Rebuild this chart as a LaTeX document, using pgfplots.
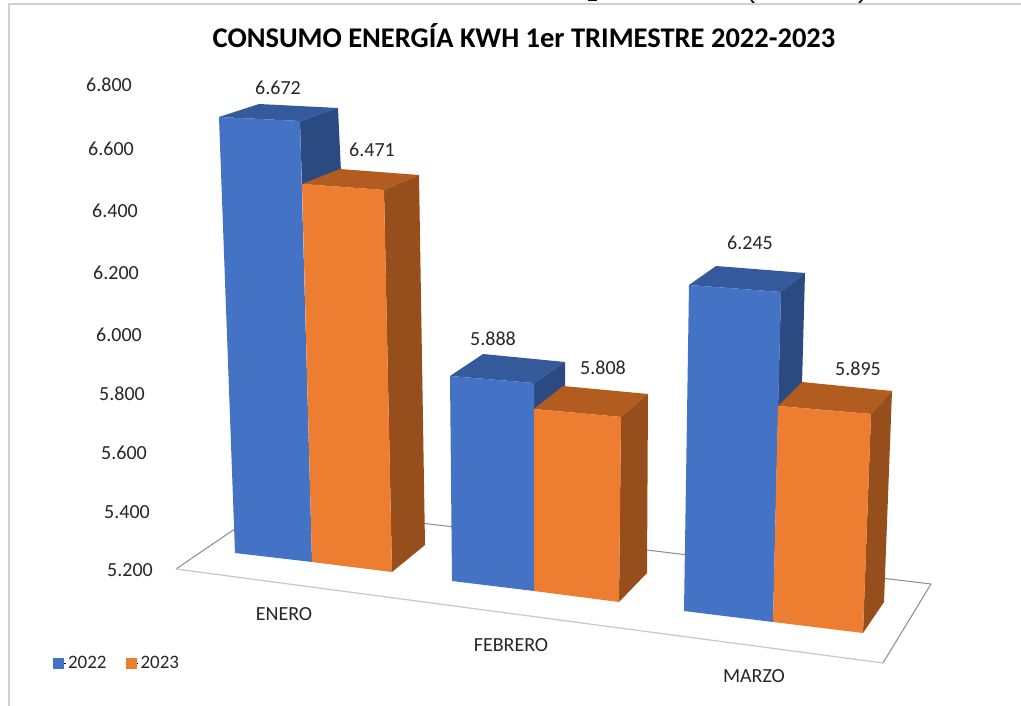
\documentclass[border=0pt]{standalone}
\usepackage{fontspec}
\setmainfont{Carlito}
\usepackage{pgfplots}
\pgfplotsset{compat=1.18}
\usepackage{pgfplotstable}
\definecolor{bF}{HTML}{4472C4}
\definecolor{bT}{HTML}{345A9C}
\definecolor{bS}{HTML}{2B4A82}
\definecolor{oF}{HTML}{ED7D31}
\definecolor{oT}{HTML}{B35C20}
\definecolor{oS}{HTML}{964F1C}
\definecolor{txt}{HTML}{262626}
\pgfplotstableread{
x y lab
109 85 6.800
111 149 6.600
115 211 6.400
116 273 6.200
119 335 6.000
122 394 5.800
124 453 5.600
127 512 5.400
130 570 5.200
}\ticklabs
\pgfplotstableread{
x y lab
278 88 6.672
372 150 6.471
493 339 5.888
603 368 5.808
750 243 6.245
858 369 5.895
}\vallabs
\pgfplotstableread{
x y lab
284 614 ENERO
511 645 FEBRERO
754 676 MARZO
}\catlabs
\newcommand{\poly}[2]{\addplot[fill=#1,draw=none,forget plot] coordinates {#2} -- cycle;}
\begin{document}
\begin{tikzpicture}
\begin{axis}[
  width=1021pt,height=706pt,scale only axis,
  xmin=0,xmax=1021,ymin=0,ymax=706,y dir=reverse,
  axis lines=none,clip=true,
  legend style={at={(axis cs:50,663)},anchor=west,draw=none,fill=none,legend columns=2,
    font=\fontsize{19}{19}\selectfont\color{txt},
    /tikz/every even column/.style={column sep=17pt}},
  legend image code/.code={\path (0pt,0pt) -- (12.5pt,0pt);\fill[draw=none,#1] (0pt,-5.5pt) rectangle (11pt,5.5pt);},
]
\addplot[fill=white,draw=none,forget plot] coordinates {(0,0)(1021,0)(1021,706)(0,706)} -- cycle;
% cropped bits of the text above the chart
\addplot[draw=black,line width=2pt,forget plot] coordinates {(588,0.5)(597,0.5)};
\addplot[draw=black,line width=1.5pt,forget plot] coordinates {(751,0)(754,3)};
\addplot[draw=black,line width=1.5pt,forget plot] coordinates {(862,0)(859,3)};
% chart frame
\addplot[draw=black!18,line width=1.3pt,forget plot] coordinates {(9,706)(9,4)(1021,4)};
% floor
\addplot[draw=black!45,line width=1pt,forget plot] coordinates {(270,505)(176,569)};
\addplot[draw=black!45,line width=1pt,forget plot] coordinates {(270,505)(931,584)(883,663)};
\addplot[draw=black!22,line width=1.2pt,forget plot] coordinates {(176,569)(883,663)};
% ENERO 2022
\poly{bT}{(219,117)(259,104)(338,108)(300,121)}
\poly{bS}{(300,121)(338,108)(341,172)(302,186)}
\poly{bF}{(219,117)(300,121)(312,562)(235,553)}
% ENERO 2023
\poly{oT}{(302,184)(340,169)(419,175)(384,190)}
\poly{oS}{(384,190)(419,175)(425,545)(392,572)}
\poly{oF}{(302,184)(384,190)(392,572)(312,562)}
% FEBRERO 2022
\poly{bT}{(450,376)(483,354)(565,362)(534,383)}
\poly{bS}{(534,383)(565,362)(565,388)(534,410)}
\poly{bF}{(450,376)(534,383)(534,591)(452,581)}
% FEBRERO 2023
\poly{oT}{(534,409)(563,386)(648,394)(621,417)}
\poly{oS}{(621,417)(648,394)(647,573)(619,602)}
\poly{oF}{(534,409)(621,417)(619,602)(534,591)}
% MARZO 2022
\poly{bT}{(689,285)(716,266)(805,273)(781,292)}
\poly{bS}{(781,292)(805,273)(802,384)(778,408)}
\poly{bF}{(689,285)(781,292)(773,622)(684,611)}
% MARZO 2023
\poly{oT}{(778,406)(802,382)(892,391)(871,414)}
\poly{oS}{(871,414)(892,391)(884,602)(863,633)}
\poly{oF}{(778,406)(871,414)(863,633)(773,622)}
% text
\addplot[draw=none,no markers,forget plot,nodes near coords,point meta=explicit symbolic,
  nodes near coords style={anchor=center,inner sep=0pt,text=txt,font=\fontsize{20}{20}\selectfont}]
  table[x=x,y=y,meta=lab] {\ticklabs};
\addplot[draw=none,no markers,forget plot,nodes near coords,point meta=explicit symbolic,
  nodes near coords style={anchor=center,inner sep=0pt,text=txt,font=\fontsize{20}{20}\selectfont}]
  table[x=x,y=y,meta=lab] {\vallabs};
\addplot[draw=none,no markers,forget plot,nodes near coords,point meta=explicit symbolic,
  nodes near coords style={anchor=center,inner sep=0pt,text=txt,font=\fontsize{20}{20}\selectfont}]
  table[x=x,y=y,meta=lab] {\catlabs};
\node[font=\bfseries\fontsize{28.5}{29}\selectfont,text=black,inner sep=0pt] at (axis cs:524,36)
  {CONSUMO ENERGÍA KWH 1er TRIMESTRE 2022-2023};
\addlegendimage{fill=bF}\addlegendentry{2022}
\addlegendimage{fill=oF}\addlegendentry{2023}
\end{axis}
\end{tikzpicture}
\end{document}
